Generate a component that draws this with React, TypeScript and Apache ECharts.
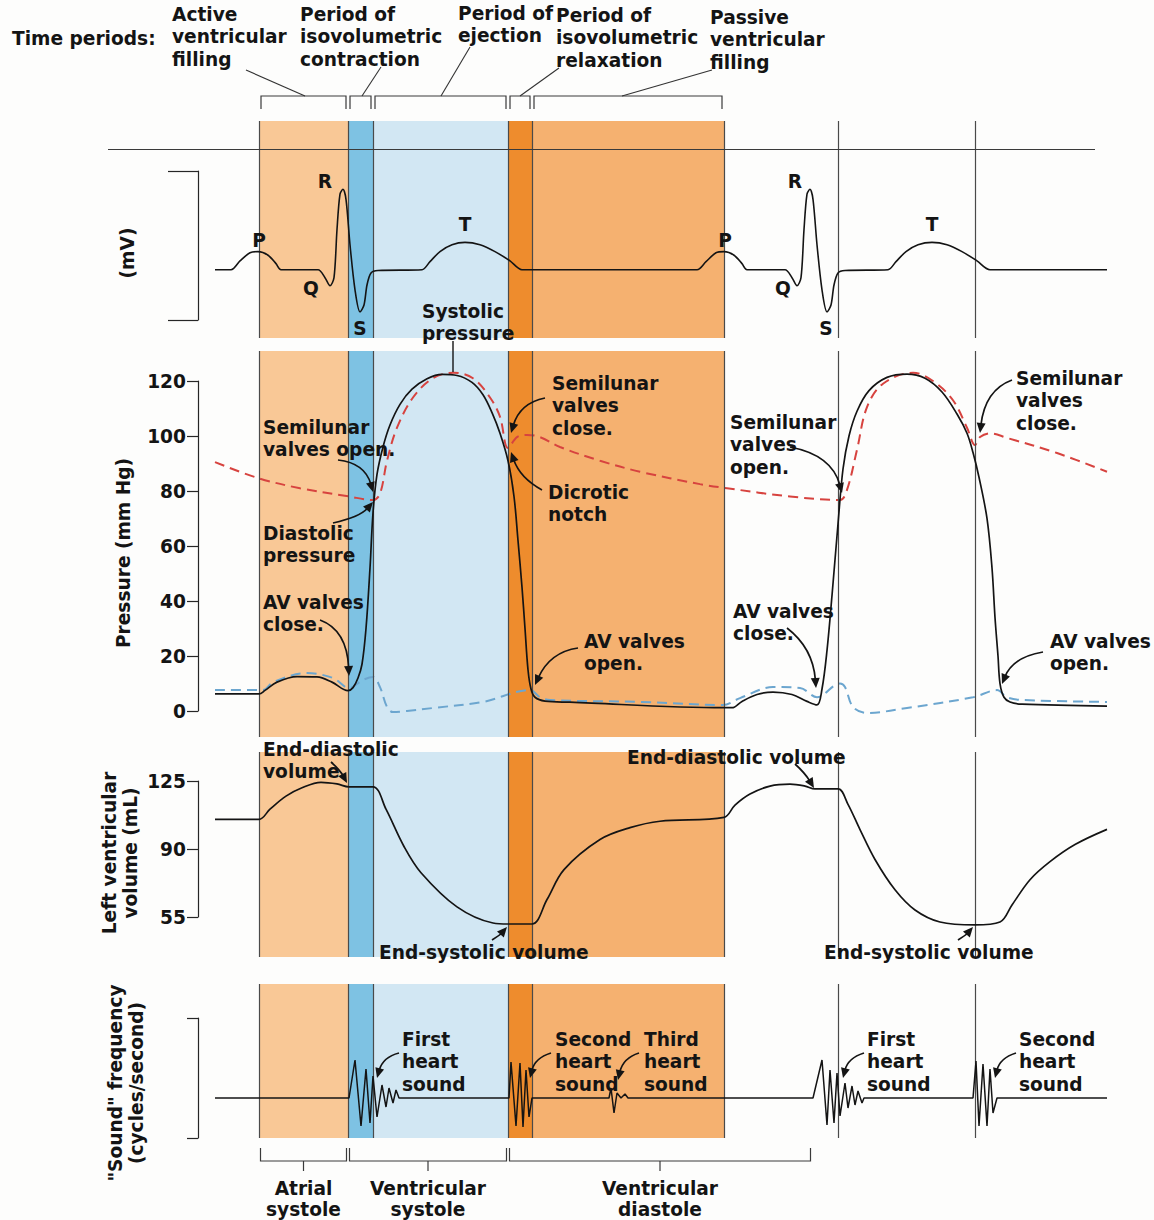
import React, { useEffect, useRef } from "react";
import * as echarts from "echarts";

const FONT = '"DejaVu Sans", Verdana, sans-serif';
const INK = "#141414";
const FS = 18.6;

// ---- time axis (arbitrary units) ----
const T_MAX = 900;
const phaseEdges = [52, 141, 166, 301, 325, 517];
const phaseColors = ["#F9C896", "#7EC2E3", "#D2E7F3", "#EE8C2D", "#F5B170"];
const laterEdges = [631, 768];
const periodNames = [
  "Active\nventricular\nfilling",
  "Period of\nisovolumetric\ncontraction",
  "Period of\nejection",
  "Period of\nisovolumetric\nrelaxation",
  "Passive\nventricular\nfilling",
];
const phaseGroups: [string, number, number][] = [
  ["Atrial\nsystole", 52, 141],
  ["Ventricular\nsystole", 141, 301],
  ["Ventricular\ndiastole", 301, 605],
];

// ---- axis ticks ----
const pressureMin = 0;
const pressureMax = 120;
const pressureStep = 20;
const volumeTicks = [55, 90, 125];

// ---- series (time, value) ----
const ecg: [number, number][] = [
  [8, 0], [24, 0], [33, 0.11], [43, 0.21], [51, 0.225], [61, 0.18], [69, 0.075], [74, 0],
  [111, 0], [118, -0.1], [123, -0.2], [127, -0.1], [130, 0.5], [133, 0.94], [136, 1.0],
  [139, 0.875], [143, 0.31], [148, -0.25], [153, -0.525], [157, -0.44], [160, -0.19],
  [164, -0.04], [171, -0.01], [215, 0], [223, 0.1], [233, 0.225], [245, 0.31], [258, 0.34],
  [273, 0.31], [288, 0.225], [303, 0.11], [315, 0], [490, 0], [499, 0.1], [509, 0.21],
  [517, 0.225], [527, 0.18], [535, 0.075], [540, 0], [578, 0], [585, -0.1], [590, -0.2],
  [594, -0.1], [597, 0.5], [600, 0.94], [603, 1.0], [606, 0.875], [610, 0.31], [615, -0.25],
  [620, -0.525], [624, -0.44], [627, -0.19], [631, -0.04], [638, -0.01], [681, 0], [689, 0.1],
  [699, 0.225], [711, 0.31], [725, 0.34], [740, 0.31], [755, 0.225], [770, 0.11], [783, 0],
  [900, 0],
];

const ventricularPressure: [number, number][] = [
  [8, 6.2], [52, 6.2], [58, 7.5], [70, 10.5], [90, 12.5], [110, 12.4], [125, 10.5], [141, 7.4],
  [146, 8.5], [151, 12], [155, 17], [159, 30], [163, 52], [166, 72], [170, 86], [176, 96],
  [183, 104], [193, 111.5], [205, 117], [220, 120.8], [235, 122.4], [250, 122], [265, 119.5],
  [276, 115], [285, 108.5], [293, 101], [301, 91], [307, 78], [311, 62], [315, 45], [318, 30],
  [321, 15], [324, 8], [328, 5], [338, 3.6], [363, 3.2], [517, 1.2], [525, 1.2], [535, 3.5],
  [550, 6], [566, 6.9], [585, 6], [600, 3.5], [610, 2.2], [615, 8], [620, 22], [625, 42],
  [631, 68], [636, 88], [642, 100], [650, 109], [662, 116.5], [680, 121.3], [700, 122.5],
  [718, 121], [735, 116], [750, 108], [760, 101], [766, 94], [772, 85], [780, 70], [785, 52],
  [788, 34], [791, 20], [793, 10], [797, 5], [803, 3.3], [815, 2.5], [900, 1.8],
];

const aorticPressure: [number, number][] = [
  [8, 90.5], [51, 84.7], [93, 81], [142, 78], [166, 76.7], [173, 79], [180, 91], [190, 103],
  [206, 114], [226, 121], [247, 123], [266, 121], [283, 114], [293, 107], [301, 95.6],
  [310, 99.6], [320, 100.4], [333, 99.6], [353, 96], [393, 91], [433, 87], [493, 82.5],
  [520, 81], [583, 78], [633, 76.7], [640, 80.4], [650, 95], [660, 110.5], [676, 119],
  [706, 123], [726, 120], [746, 113], [760, 103], [768, 96.7], [773, 99.6], [783, 101],
  [800, 99.3], [850, 93.8], [900, 87],
];

const atrialPressure: [number, number][] = [
  [8, 7.6], [56, 7.6], [66, 10.5], [100, 13.8], [126, 12], [142, 8.4], [156, 11.3],
  [166, 12.4], [173, 8.7], [180, 1.5], [186, -0.4], [200, 0], [226, 1.1], [276, 3.3],
  [323, 7.6], [333, 5], [343, 4], [433, 3.3], [516, 2.2], [533, 4.7], [566, 8.7], [593, 8.4],
  [610, 5], [633, 10], [638, 8.7], [646, 1.5], [660, -0.7], [700, 1.1], [766, 5], [790, 7.6],
  [800, 5], [816, 4], [900, 3.3],
];

const ventricularVolume: [number, number][] = [
  [8, 105.3], [52, 105.3], [63, 110.5], [79, 117.2], [95, 121.5], [114, 124.3], [130, 123.5],
  [142, 122], [166, 122], [179, 110.5], [197, 91.3], [214, 77.8], [250, 60.2], [286, 51.9],
  [301, 51.4], [325, 51.4], [340, 64], [357, 79.4], [393, 94.9], [423, 101], [453, 104.3],
  [517, 106.3], [528, 112.6], [543, 118.3], [563, 122.4], [583, 123.4], [598, 122.4],
  [608, 120.9], [631, 120.9], [641, 113], [653, 100], [668, 84.6], [688, 69], [708, 58.6],
  [733, 52.4], [768, 50.9], [793, 52.4], [805, 61.2], [823, 74.2], [843, 83.5], [868, 92.3],
  [900, 100.1],
];

const heartSound: [number, number][] = [
  [8, 0], [142, 0], [148, 3.8], [154, -2.8], [159, 2.9], [163, -2.5], [166, 2.2], [170, -1.9],
  [175, 1.3], [179, -0.9], [182, 1], [186, -0.5], [189, 0.8], [192, 0], [302, 0], [304, 3.6],
  [309, -2.8], [313, 3.5], [316, -2.9], [319, 2.8], [322, -1.9], [325, 0], [402, 0], [404, 1],
  [407, -1.5], [410, 0.5], [414, 0], [418, 0.4], [421, 0], [606, 0], [615, 3.8], [620, -2.7],
  [623, 2.8], [627, -2.5], [630, 2.5], [633, -1.8], [638, 1.5], [641, -1], [645, 1.2],
  [648, -0.7], [651, 0.7], [655, -0.5], [657, 0], [766, 0], [769, 3.7], [772, -2.8],
  [776, 3.4], [780, -2.8], [783, 2.9], [786, -1.5], [790, 0], [900, 0],
];

// ---- annotations (layout, pixels) ----
const topLabelPos: [number, number][] = [
  [172, 14], [300, 14], [458, 13], [556, 15], [710, 17],
];
const topLeaders: number[][] = [
  [305, 96, 246, 70], [362, 96, 381, 67], [441, 96, 470, 47], [520, 96, 559, 68], [622, 96, 712, 70],
];
const ecgLetters: [string, number, number][] = [
  ["P", 259, 240], ["Q", 311, 288], ["R", 325, 181], ["S", 360, 328], ["T", 465, 224],
  ["P", 725, 240], ["Q", 783, 288], ["R", 795, 181], ["S", 826, 328], ["T", 932, 224],
];
const notes: [string, number, number][] = [
  ["Systolic\npressure", 422, 311],
  ["Semilunar\nvalves open.", 263, 427],
  ["Diastolic\npressure", 263, 533],
  ["AV valves\nclose.", 263, 602],
  ["Semilunar\nvalves\nclose.", 552, 383],
  ["Dicrotic\nnotch", 548, 492],
  ["AV valves\nopen.", 584, 641],
  ["Semilunar\nvalves\nopen.", 730, 422],
  ["AV valves\nclose.", 733, 611],
  ["Semilunar\nvalves\nclose.", 1016, 378],
  ["AV valves\nopen.", 1050, 641],
  ["End-diastolic\nvolume", 263, 749],
  ["End-diastolic volume", 627, 757],
  ["End-systolic volume", 379, 952],
  ["End-systolic volume", 824, 952],
  ["First\nheart\nsound", 402, 1039],
  ["Second\nheart\nsound", 555, 1039],
  ["Third\nheart\nsound", 644, 1039],
  ["First\nheart\nsound", 867, 1039],
  ["Second\nheart\nsound", 1019, 1039],
];
const arrows: number[][] = [
  [338, 460, 365, 463, 373, 492],
  [333, 523, 360, 517, 373, 502],
  [320, 620, 347, 630, 349, 676],
  [545, 398, 520, 403, 511, 433],
  [542, 490, 520, 478, 511, 452],
  [578, 648, 550, 652, 535, 685],
  [790, 447, 832, 455, 842, 493],
  [787, 628, 813, 648, 816, 688],
  [1012, 380, 985, 390, 980, 433],
  [1043, 652, 1013, 657, 1002, 684],
  [331, 762, 340, 770, 347, 783],
  [795, 764, 805, 773, 814, 788],
  [492, 940, 500, 935, 507, 927],
  [958, 940, 966, 935, 973, 927],
  [399, 1053, 383, 1057, 377, 1078],
  [551, 1053, 535, 1058, 530, 1078],
  [639, 1053, 623, 1058, 618, 1080],
  [864, 1053, 848, 1058, 843, 1078],
  [1016, 1053, 1000, 1058, 995, 1078],
];

const LH = 22.5;

function txt(text: string, x: number, cy: number, align = "left", lh = LH) {
  return {
    type: "text",
    x,
    y: cy - lh / 2,
    silent: true,
    z: 100,
    style: {
      text,
      fill: INK,
      fontSize: FS,
      fontWeight: "bold",
      fontFamily: FONT,
      lineHeight: lh,
      align,
      verticalAlign: "top",
    },
  };
}

function rotTxt(text: string, x: number, y: number, lh = 21) {
  return {
    type: "text",
    x,
    y,
    rotation: Math.PI / 2,
    silent: true,
    z: 100,
    style: {
      text,
      fill: INK,
      fontSize: FS,
      fontWeight: "bold",
      fontFamily: FONT,
      lineHeight: lh,
      align: "center",
      verticalAlign: "middle",
    },
  };
}

function arrowEls(a: number[]) {
  const [sx, sy, cx, cy, ex, ey] = a;
  let dx = ex - cx;
  let dy = ey - cy;
  const L = Math.hypot(dx, dy) || 1;
  dx /= L;
  dy /= L;
  const hl = 10;
  const hw = 4.5;
  const bx = ex - dx * hl;
  const by = ey - dy * hl;
  const nx = -dy;
  const ny = dx;
  return [
    {
      type: "bezierCurve",
      silent: true,
      z: 100,
      shape: { x1: sx, y1: sy, cpx1: cx, cpy1: cy, x2: bx + dx * 2, y2: by + dy * 2 },
      style: { stroke: INK, lineWidth: 1.7, fill: "none" },
    },
    {
      type: "polygon",
      silent: true,
      z: 100,
      shape: { points: [[ex, ey], [bx + nx * hw, by + ny * hw], [bx - nx * hw, by - ny * hw]] },
      style: { fill: INK },
    },
  ];
}

function line(x1: number, y1: number, x2: number, y2: number, w = 1.1, c = "#333") {
  return { type: "line", silent: true, z: 90, shape: { x1, y1, x2, y2 }, style: { stroke: c, lineWidth: w } };
}

function poly(points: number[][], w = 1.2, c = "#3a3a3a") {
  return { type: "polyline", silent: true, z: 90, shape: { points }, style: { stroke: c, lineWidth: w, fill: "none" } };
}

export default function App() {
  const ref = useRef<HTMLDivElement>(null);

  useEffect(() => {
    document.body.style.margin = "0";
    if (!ref.current) return;
    const chart = echarts.init(ref.current, null, { renderer: "svg" });

    const dataGrids = [
      { top: 121, height: 217 },
      { top: 351, height: 386 },
      { top: 752, height: 205 },
      { top: 984, height: 154 },
    ];
    const yRanges = [
      [-0.85, 1.85],
      [-9.45, 130.9],
      [34.41, 139.93],
      [-4.0, 11.4],
    ];
    const axisGrids = [
      { left: 198, top: 171, height: 149 },
      { left: 198, top: 381, height: 330 },
      { left: 198, top: 781, height: 136 },
      { left: 198, top: 1018, height: 120 },
    ];

    const grid: any[] = [
      ...dataGrids.map((g) => ({ left: 207, width: 900, top: g.top, height: g.height })),
      ...axisGrids.map((g) => ({ left: g.left, width: 20, top: g.top, height: g.height })),
    ];

    const xAxis: any[] = [
      ...dataGrids.map((_, i) => ({ type: "value", gridIndex: i, min: 0, max: T_MAX, show: false })),
      ...axisGrids.map((_, i) => ({ type: "value", gridIndex: 4 + i, min: 0, max: 1, show: false })),
    ];

    const axisLineStyle = { color: "#262626", width: 1.2 };
    const labelStyle = { fontSize: FS, fontWeight: "bold", fontFamily: FONT, color: INK, margin: 12 };

    const yAxis: any[] = [
      ...dataGrids.map((_, i) => ({
        type: "value",
        gridIndex: i,
        min: yRanges[i][0],
        max: yRanges[i][1],
        show: false,
      })),
      {
        type: "value",
        gridIndex: 4,
        min: 0,
        max: 1,
        axisLine: { show: true, lineStyle: axisLineStyle },
        axisTick: { show: true, length: 30, customValues: [0, 1], lineStyle: axisLineStyle },
        axisLabel: { show: false },
        splitLine: { show: false },
      },
      {
        type: "value",
        gridIndex: 5,
        min: pressureMin,
        max: pressureMax,
        interval: pressureStep,
        axisLine: { show: true, lineStyle: axisLineStyle },
        axisTick: { show: true, length: 11, lineStyle: axisLineStyle },
        axisLabel: { show: true, ...labelStyle },
        splitLine: { show: false },
      },
      {
        type: "value",
        gridIndex: 6,
        min: volumeTicks[0],
        max: volumeTicks[volumeTicks.length - 1],
        axisLine: { show: true, lineStyle: axisLineStyle },
        axisTick: { show: true, length: 11, customValues: volumeTicks, lineStyle: axisLineStyle },
        axisLabel: { show: true, customValues: volumeTicks, ...labelStyle },
        splitLine: { show: false },
      },
      {
        type: "value",
        gridIndex: 7,
        min: 0,
        max: 1,
        axisLine: { show: true, lineStyle: axisLineStyle },
        axisTick: { show: true, length: 11, customValues: [0, 1], lineStyle: axisLineStyle },
        axisLabel: { show: false },
        splitLine: { show: false },
      },
    ];

    const bandSeries = dataGrids.map((_, gi) => ({
      type: "line",
      xAxisIndex: gi,
      yAxisIndex: gi,
      data: [],
      z: 1,
      silent: true,
      markArea: {
        silent: true,
        data: phaseEdges.slice(0, -1).map((a, i) => [
          { xAxis: a, itemStyle: { color: phaseColors[i], opacity: 1, borderWidth: 0 } },
          { xAxis: phaseEdges[i + 1] },
        ]),
      },
      markLine: {
        silent: true,
        symbol: ["none", "none"],
        label: { show: false },
        lineStyle: { color: "#4a4a4a", width: 1.2, type: "solid", opacity: 1 },
        data: [...phaseEdges, ...laterEdges].map((v) => ({ xAxis: v })),
      },
    }));

    const lineSeries = (
      gi: number,
      data: [number, number][],
      color: string,
      width: number,
      smooth: number | boolean,
      dash?: number[],
      z = 5
    ) => ({
      type: "line",
      xAxisIndex: gi,
      yAxisIndex: gi,
      data,
      smooth,
      symbol: "none",
      silent: true,
      z,
      lineStyle: { color, width, type: dash ? dash : "solid" },
    });

    chart.setOption({
      animation: false,
      backgroundColor: "#fdfdfc",
      grid,
      xAxis,
      yAxis,
      series: [
        ...bandSeries,
        lineSeries(0, ecg, INK, 1.6, 0.3),
        lineSeries(1, aorticPressure, "#D7433F", 2, 0.35, [10, 6], 4),
        lineSeries(1, atrialPressure, "#6CA6CF", 2, 0.35, [10, 6], 4),
        lineSeries(1, ventricularPressure, INK, 1.7, 0.35),
        lineSeries(2, ventricularVolume, INK, 1.7, 0.35),
        lineSeries(3, heartSound, INK, 1.5, false),
      ],
    });

    const px = (v: number) => chart.convertToPixel({ xAxisIndex: 0 }, v) as number;

    const g: any[] = [];
    // horizontal rule across top of ECG panel
    g.push(line(108, 149.5, 1095, 149.5, 1.1, "#3a3a3a"));

    // top period brackets + labels
    g.push(txt("Time periods:", 12, 38));
    for (let i = 0; i < periodNames.length; i++) {
      const x0 = px(phaseEdges[i]) + 2;
      const x1 = px(phaseEdges[i + 1]) - 2;
      g.push(poly([[x0, 109], [x0, 96], [x1, 96], [x1, 109]]));
      const [lx, ly] = topLabelPos[i];
      g.push(txt(periodNames[i], lx, ly));
      const l = topLeaders[i];
      g.push(line(l[0], l[1], l[2], l[3], 1.1, "#333"));
    }

    // bottom phase brackets
    for (const [name, a, b] of phaseGroups) {
      const x0 = px(a) + 1.5;
      const x1 = px(b) - 1.5;
      const xc = (x0 + x1) / 2;
      g.push(poly([[x0, 1148], [x0, 1161], [x1, 1161], [x1, 1148]]));
      g.push(line(xc, 1161, xc, 1171, 1.2, "#3a3a3a"));
      g.push(txt(name, xc, 1188, "center", 21));
    }

    // ECG letters
    for (const [s, x, y] of ecgLetters) g.push(txt(s, x, y, "center"));

    // annotations
    for (const [s, x, y] of notes) g.push(txt(s, x, y));
    g.push(line(453, 341, 453, 372, 1.4, INK));
    for (const a of arrows) g.push(...arrowEls(a));

    // axis names
    g.push(rotTxt("(mV)", 127, 253));
    g.push(rotTxt("Pressure (mm Hg)", 123, 553));
    g.push(rotTxt("Left ventricular\nvolume (mL)", 120, 853));
    g.push(rotTxt('"Sound" frequency\n(cycles/second)', 126, 1083));

    chart.setOption({ graphic: { elements: g } });

    return () => {
      chart.dispose();
    };
  }, []);

  return <div ref={ref} style={{ width: 1154, height: 1220 }} />;
}
